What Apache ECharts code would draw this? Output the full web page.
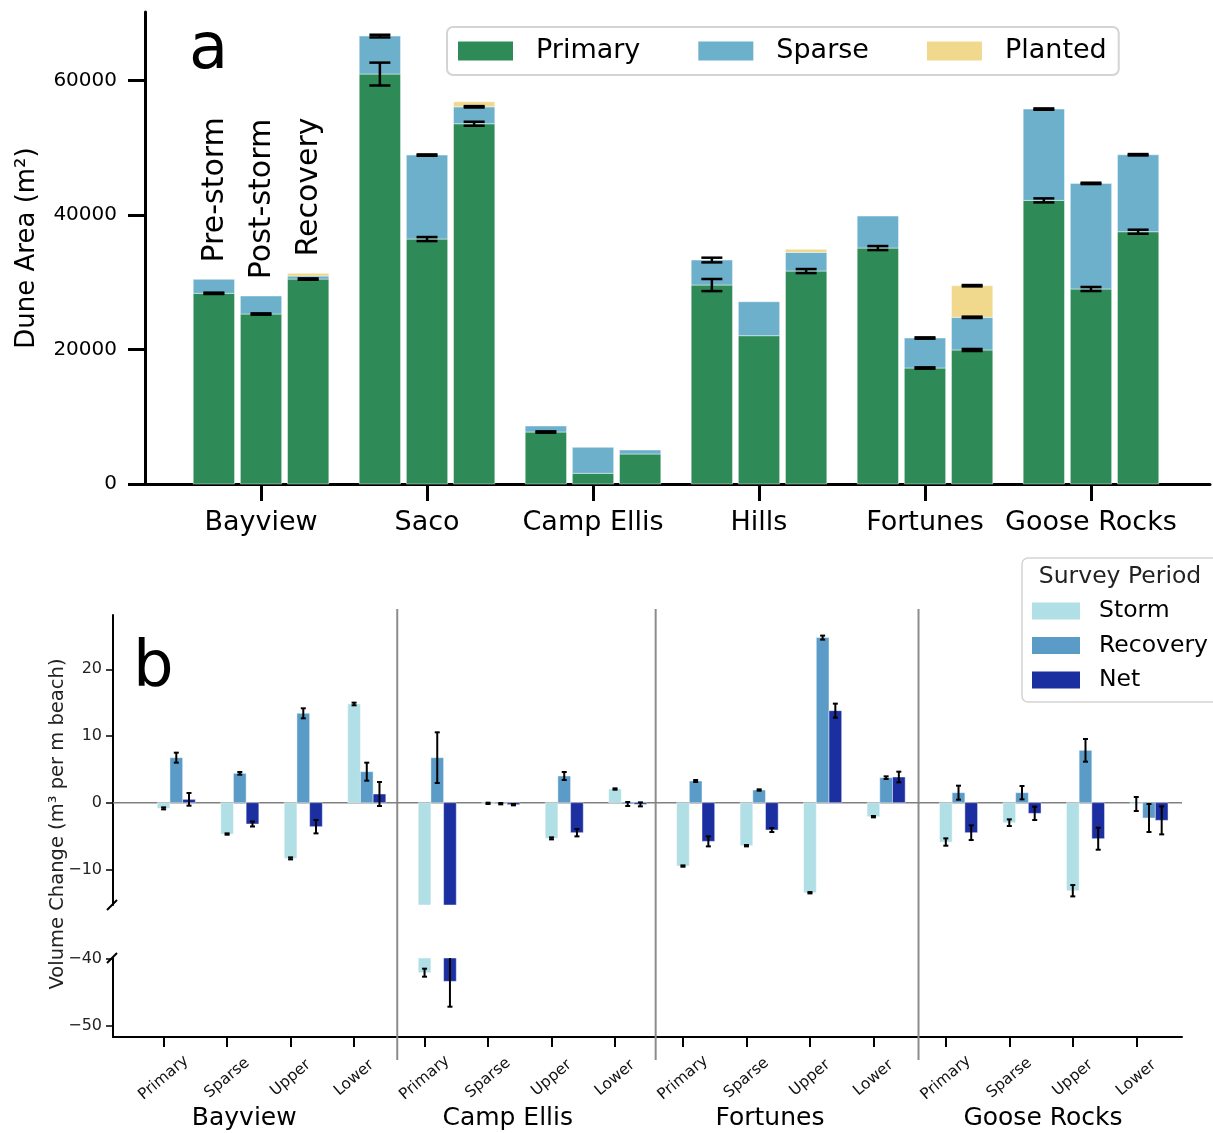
<!DOCTYPE html>
<html>
<head>
<meta charset="utf-8">
<script src="https://cdn.jsdelivr.net/npm/echarts@6.0.0/dist/echarts.min.js"></script>
<style>
html,body{margin:0;padding:0;background:#fff;}
#chart{width:1213px;height:1133px;}
</style>
</head>
<body>
<div id="chart"></div>
<script>
// ---------------- Panel a data (dune area, m^2) ----------------
const sites = ['Bayview', 'Saco', 'Camp Ellis', 'Hills', 'Fortunes', 'Goose Rocks'];
const periods = ['Pre-storm', 'Post-storm', 'Recovery'];
const primaryArea = [[28360, 25280, 30480], [60970, 36430, 53580], [7730, 1590, 4460], [29590, 22060, 31670], [35090, 17250, 19930], [42180, 29000, 37520]];
const sparseArea  = [[2080, 2680, 450], [5650, 12490, 2520], [895, 3860, 600], [3720, 5050, 2780], [4760, 4460, 4860], [13580, 15710, 11450]];
const plantedArea = [[0, 0, 400], [0, 0, 750], [0, 0, 0], [0, 0, 450], [0, 0, 4700], [0, 0, 0]];
const primaryErr  = [[100, 100, 100], [1700, 300, 300], [100, 0, 0], [900, 0, 300], [300, 100, 150], [300, 300, 300]];
const sparseErr   = [[0, 0, 0], [200, 100, 100], [0, 0, 0], [350, 0, 0], [0, 100, 100], [100, 100, 100]];
const plantedErr  = [[0, 0, 0], [0, 0, 0], [0, 0, 0], [0, 0, 0], [0, 0, 100], [0, 0, 0]];
const areaTicks = [0, 20000, 40000, 60000];

// ---------------- Panel b data (volume change, m^3 per m beach) ----------------
const beaches = ['Bayview', 'Camp Ellis', 'Fortunes', 'Goose Rocks'];
const zones = ['Primary', 'Sparse', 'Upper', 'Lower'];
const surveyPeriods = ['Storm', 'Recovery', 'Net'];
const stormChange    = [[-0.85, -4.7, -8.35, 14.8], [-42.1, -0.1, -5.35, 2.05], [-9.5, -6.45, -13.5, -2.1], [-5.9, -3.0, -13.2, -0.2]];
const recoveryChange = [[6.75, 4.4, 13.4, 4.65], [6.75, -0.15, 4.0, -0.2], [3.25, 1.9, 24.75, 3.75], [1.5, 1.5, 7.85, -2.3]];
const netChange      = [[0.5, -3.2, -3.6, 1.3], [-43.4, -0.3, -4.5, -0.25], [-5.8, -4.1, 13.8, 3.85], [-4.5, -1.6, -5.4, -2.65]];
const stormErr    = [[0.15, 0.1, 0.15, 0.2], [0.6, 0.1, 0.15, 0.1], [0.1, 0.1, 0.1, 0.1], [0.55, 0.5, 0.85, 1.05]];
const recoveryErr = [[0.75, 0.2, 0.75, 1.35], [3.8, 0.1, 0.6, 0.3], [0.15, 0.1, 0.3, 0.2], [1.05, 1.0, 1.7, 2.1]];
const netErr      = [[0.95, 0.37, 1.0, 1.8], [3.8, 0.1, 0.55, 0.3], [0.75, 0.3, 1.05, 0.8], [1.1, 1.0, 1.65, 2.1]];
const changeTicksUpper = [-10, 0, 10, 20];
const changeTicksLower = [-50, -40];

// ---------------- Layout / style constants ----------------
const FONT = 'DejaVu Sans';
const C = {primary: '#2e8b57', sparse: '#6cb0cc', planted: '#f0d98c', storm: '#b0dfe5', recovery: '#5a9bc8', net: '#1c2fa1'};
const OFF = 0.284, BW = 0.249;            // panel a bar offset / width (category units)
const ANNOT_GAP = 2500;                    // annotation gap above bar (m^2)
const beachStart = [0, 4.11, 8.18, 12.32]; // panel b group start positions
const SEP_GAP = 0.43;
const BWB = 0.2;                           // panel b bar width
const XMIN = -0.797, XMAX = 16.04;
const UPPER_MIN = -15.34, UPPER_MAX = 28.14;
const LOWER_MIN = -51.74, LOWER_MAX = -39.9;
const siteLabelOffset = [1.27, 1.31, 1.37, 1.53];

const xTop = (i, j) => i + (j - 1) * OFF;
const xBot = (s, c, k) => beachStart[s] + c + k * BWB;

function rectSeries(name, xi, yi, rows, color, halfW, z) {
  return {
    type: 'custom', name: name, xAxisIndex: xi, yAxisIndex: yi, z: z, silent: true,
    itemStyle: {color: color}, data: rows,
    renderItem: function (params, api) {
      const x = api.value(0), a = api.value(1), b = api.value(2);
      const p = api.coord([x - halfW, Math.max(a, b)]);
      const q = api.coord([x + halfW, Math.min(a, b)]);
      return {type: 'rect', shape: {x: p[0], y: p[1], width: q[0] - p[0], height: q[1] - p[1]},
              style: {fill: color, stroke: 'rgba(255,255,255,0.45)', lineWidth: 1}};
    }
  };
}
function errSeries(xi, yi, rows, cap, lw, lo, hi) {
  return {
    type: 'custom', xAxisIndex: xi, yAxisIndex: yi, z: 6, silent: true, data: rows,
    renderItem: function (params, api) {
      const x = api.value(0), c = api.value(1), e = api.value(2);
      let y0 = c - e, y1 = c + e;
      const capLo = y0 >= lo, capHi = y1 <= hi;
      y0 = Math.max(y0, lo); y1 = Math.min(y1, hi);
      const a = api.coord([x, y0]), b = api.coord([x, y1]);
      const st = {stroke: '#000', lineWidth: lw};
      const ch = [{type: 'line', shape: {x1: a[0], y1: a[1], x2: b[0], y2: b[1]}, style: st}];
      if (capLo) ch.push({type: 'line', shape: {x1: a[0] - cap, y1: a[1], x2: a[0] + cap, y2: a[1]}, style: st});
      if (capHi) ch.push({type: 'line', shape: {x1: b[0] - cap, y1: b[1], x2: b[0] + cap, y2: b[1]}, style: st});
      return {type: 'group', children: ch};
    }
  };
}

// ---- panel a rows ----
const sparseBase = primaryArea;
const plantedBase = primaryArea.map((r, i) => r.map((v, j) => v + sparseArea[i][j]));
const totalArea = plantedBase.map((r, i) => r.map((v, j) => v + plantedArea[i][j]));
function stackRows(vals, base) {
  const rows = [];
  sites.forEach((s, i) => periods.forEach((p, j) => {
    if (vals[i][j] > 0) rows.push([xTop(i, j), base ? base[i][j] : 0, (base ? base[i][j] : 0) + vals[i][j]]);
  }));
  return rows;
}
function errRowsTop(errs, tops) {
  const rows = [];
  sites.forEach((s, i) => periods.forEach((p, j) => { if (errs[i][j] > 0) rows.push([xTop(i, j), tops[i][j], errs[i][j]]); }));
  return rows;
}
const topErrRows = [].concat(errRowsTop(primaryErr, primaryArea), errRowsTop(sparseErr, plantedBase), errRowsTop(plantedErr, totalArea));

// ---- panel b rows ----
const changeSets = [stormChange, recoveryChange, netChange];
const changeErrs = [stormErr, recoveryErr, netErr];
const colorsB = [C.storm, C.recovery, C.net];
const seriesB = [];
const errUpper = [], errLower = [];
surveyPeriods.forEach((name, k) => {
  const up = [], lowR = [];
  beaches.forEach((b, s) => zones.forEach((z, c) => {
    const v = changeSets[k][s][c], e = changeErrs[k][s][c], x = xBot(s, c, k);
    up.push([x, 0, Math.max(Math.min(v, UPPER_MAX), UPPER_MIN)]);
    if (v < LOWER_MAX) { lowR.push([x, LOWER_MAX, v]); errLower.push([x, v, e]); }
    else errUpper.push([x, v, e]);
  }));
  seriesB.push(rectSeries(name, 1, 1, up, colorsB[k], BWB / 2, 3));
  seriesB.push(rectSeries(name, 2, 2, lowR, colorsB[k], BWB / 2, 3));
});
const tickPos = [];
beaches.forEach((b, s) => zones.forEach((z, c) => tickPos.push(xBot(s, c, 0))));

const chart = echarts.init(document.getElementById('chart'), null, {renderer: 'canvas'});

const option = {
  animation: false,
  backgroundColor: '#fff',
  textStyle: {fontFamily: FONT, color: '#000'},
  grid: [
    {left: 145, top: 12, width: 1065, height: 472},
    {left: 113, top: 615, width: 1069, height: 290},
    {left: 113, top: 958, width: 1069, height: 79}
  ],
  xAxis: [
    {gridIndex: 0, type: 'value', min: -0.699, max: 5.717,
     axisLine: {onZero: false, lineStyle: {color: '#000', width: 3}},
     axisTick: {customValues: sites.map((s, i) => i), length: 17, lineStyle: {color: '#000', width: 3}},
     axisLabel: {customValues: sites.map((s, i) => i), formatter: v => sites[Math.round(v)], fontSize: 27, color: '#000', margin: 25, fontFamily: FONT},
     splitLine: {show: false}},
    {gridIndex: 1, type: 'value', min: XMIN, max: XMAX, show: false, splitLine: {show: false}},
    {gridIndex: 2, type: 'value', min: XMIN, max: XMAX,
     axisLine: {onZero: false, lineStyle: {color: '#000', width: 2}},
     axisTick: {customValues: tickPos, length: 10, lineStyle: {color: '#000', width: 2}},
     axisLabel: {customValues: tickPos, rotate: 40, align: 'center', verticalAlign: 'middle', margin: 41, fontSize: 15.5, color: '#111', fontFamily: FONT,
                 formatter: v => { const i = tickPos.findIndex(p => Math.abs(p - v) < 1e-6); return i >= 0 ? zones[i % 4] : ''; }},
     splitLine: {show: false}}
  ],
  yAxis: [
    {gridIndex: 0, type: 'value', min: 0, max: 70200,
     axisLine: {show: true, onZero: false, lineStyle: {color: '#000', width: 3}},
     axisTick: {show: true, customValues: areaTicks, length: 17, lineStyle: {color: '#000', width: 3}},
     axisLabel: {customValues: areaTicks, formatter: v => String(v), fontSize: 20, color: '#000', margin: 28, fontFamily: FONT},
     splitLine: {show: false}},
    {gridIndex: 1, type: 'value', min: UPPER_MIN, max: UPPER_MAX,
     axisLine: {show: true, onZero: false, lineStyle: {color: '#000', width: 2}},
     axisTick: {show: true, customValues: changeTicksUpper, length: 7, lineStyle: {color: '#000', width: 1.5}},
     axisLabel: {customValues: changeTicksUpper, formatter: v => v < 0 ? '\u2212' + Math.abs(v) : String(v), fontSize: 16, color: '#222', margin: 11, fontFamily: FONT},
     splitLine: {show: false}},
    {gridIndex: 2, type: 'value', min: LOWER_MIN, max: LOWER_MAX,
     axisLine: {show: true, onZero: false, lineStyle: {color: '#000', width: 2}},
     axisTick: {show: true, customValues: changeTicksLower, length: 7, lineStyle: {color: '#000', width: 1.5}},
     axisLabel: {customValues: changeTicksLower, formatter: v => v < 0 ? '\u2212' + Math.abs(v) : String(v), fontSize: 16, color: '#222', margin: 11, fontFamily: FONT},
     splitLine: {show: false}}
  ],
  legend: [
    {left: 447, top: 27, orient: 'horizontal', itemWidth: 55, itemHeight: 19, itemGap: 58, icon: 'rect',
     padding: [8, 12, 8, 11], borderColor: '#d4d4d4', borderWidth: 2, borderRadius: 6, backgroundColor: 'rgba(255,255,255,0.85)',
     textStyle: {fontSize: 27, lineHeight: 32, color: '#000', fontFamily: FONT, padding: [0, 0, 0, 18]},
     selectedMode: false,
     data: [{name: 'Primary', itemStyle: {color: C.primary}}, {name: 'Sparse', itemStyle: {color: C.sparse}}, {name: 'Planted', itemStyle: {color: C.planted}}]},
    {left: 1022, top: 558, orient: 'vertical', itemWidth: 48, itemHeight: 17, itemGap: 6.5, icon: 'rect',
     padding: [39, 20, 8, 10], borderColor: '#d4d4d4', borderWidth: 1.5, borderRadius: 6, backgroundColor: 'rgba(255,255,255,0.85)',
     textStyle: {fontSize: 23.5, lineHeight: 28, color: '#000', fontFamily: FONT, padding: [0, 0, 0, 14]},
     selectedMode: false,
     data: [{name: 'Storm', itemStyle: {color: C.storm}}, {name: 'Recovery', itemStyle: {color: C.recovery}}, {name: 'Net', itemStyle: {color: C.net}}]}
  ],
  series: [
    rectSeries('Primary', 0, 0, stackRows(primaryArea, null), C.primary, BW / 2, 3),
    rectSeries('Sparse', 0, 0, stackRows(sparseArea, sparseBase), C.sparse, BW / 2, 3),
    rectSeries('Planted', 0, 0, stackRows(plantedArea, plantedBase), C.planted, BW / 2, 3),
    errSeries(0, 0, topErrRows, 10.5, 2.5, -1e9, 1e9),
    {type: 'custom', xAxisIndex: 0, yAxisIndex: 0, z: 7, silent: true,
     data: periods.map((p, j) => [xTop(0, j), totalArea[0][j] + ANNOT_GAP, j]),
     renderItem: function (params, api) {
       const pt = api.coord([api.value(0), api.value(1)]);
       return {type: 'text', x: pt[0] + 1, y: pt[1], rotation: Math.PI / 2,
               style: {text: periods[api.value(2)], fontSize: 30, fontFamily: FONT, fill: '#000', align: 'left', verticalAlign: 'middle'}};
     }},
    {type: 'custom', xAxisIndex: 1, yAxisIndex: 1, z: 2, silent: true, data: [[0]],
     renderItem: function (params, api) {
       const a = api.coord([XMIN, 0]), b = api.coord([XMAX, 0]);
       return {type: 'line', shape: {x1: a[0], y1: a[1], x2: b[0], y2: b[1]}, style: {stroke: '#808080', lineWidth: 1.5}};
     }}
  ].concat(seriesB, [
    errSeries(1, 1, errUpper, 2.5, 2, UPPER_MIN, UPPER_MAX),
    errSeries(2, 2, errLower, 2.5, 2, LOWER_MIN, LOWER_MAX)
  ])
};
chart.setOption(option);

// ---- annotations that depend on axis pixel positions ----
const px = v => chart.convertToPixel({xAxisIndex: 2}, v);
const upperBottom = chart.convertToPixel({yAxisIndex: 1}, UPPER_MIN);
const upperTop = chart.convertToPixel({yAxisIndex: 1}, UPPER_MAX);
const lowerTop = chart.convertToPixel({yAxisIndex: 2}, LOWER_MAX);
const lowerBottom = chart.convertToPixel({yAxisIndex: 2}, LOWER_MIN);
const spineX = px(XMIN);
const graphics = [];
beachStart.slice(1).forEach(s => {
  const x = px(s - SEP_GAP);
  graphics.push({type: 'line', z: 1, shape: {x1: x, y1: upperTop - 6, x2: x, y2: lowerBottom + 23}, style: {stroke: '#8c8c8c', lineWidth: 2}});
});
[upperBottom, lowerTop].forEach(y => {
  graphics.push({type: 'line', z: 10, shape: {x1: spineX - 6, y1: y + 5, x2: spineX + 4, y2: y - 5}, style: {stroke: '#000', lineWidth: 2}});
});
beaches.forEach((b, s) => {
  graphics.push({type: 'text', z: 10, x: px(beachStart[s] + siteLabelOffset[s]), y: 1118,
    style: {text: b, fontSize: 25, fontFamily: FONT, fill: '#000', align: 'center', verticalAlign: 'middle'}});
});
graphics.push(
  {type: 'text', z: 10, x: 189, y: 51, style: {text: 'a', fontSize: 64, fontFamily: FONT, fill: '#000', align: 'left', verticalAlign: 'middle'}},
  {type: 'text', z: 10, x: 133, y: 669, style: {text: 'b', fontSize: 64, fontFamily: FONT, fill: '#000', align: 'left', verticalAlign: 'middle'}},
  {type: 'text', z: 10, x: 27, y: 248, rotation: Math.PI / 2, style: {text: 'Dune Area (m\u00B2)', fontSize: 26, fontFamily: FONT, fill: '#000', align: 'center', verticalAlign: 'middle'}},
  {type: 'text', z: 10, x: 58, y: 824, rotation: Math.PI / 2, style: {text: 'Volume Change (m\u00B3 per m beach)', fontSize: 19.5, fontFamily: FONT, fill: '#222', align: 'center', verticalAlign: 'middle'}},
  {type: 'text', z: 100, x: 1120, y: 577, style: {text: 'Survey Period', fontSize: 23.5, fontFamily: FONT, fill: '#222', align: 'center', verticalAlign: 'middle'}}
);
chart.setOption({graphic: graphics});
</script>
</body>
</html>
